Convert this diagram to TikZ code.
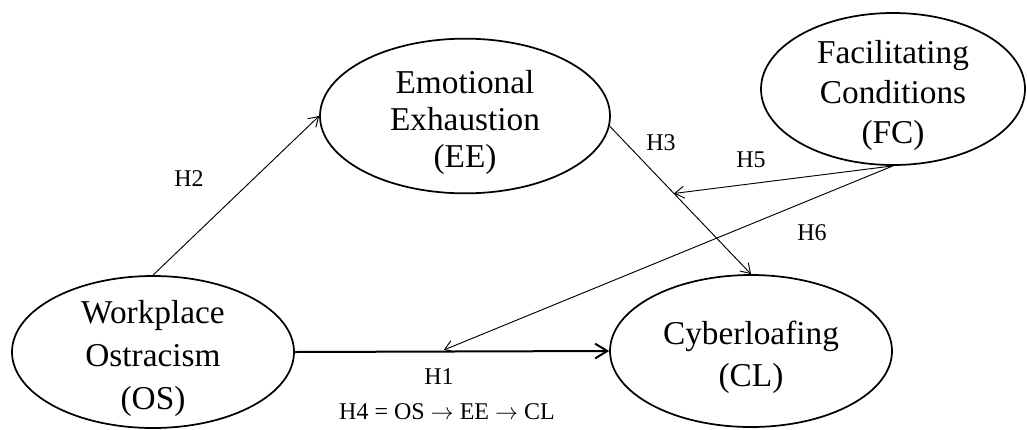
\documentclass[tikz,border=0pt]{standalone}
\usepackage{fontspec}
\setmainfont{Liberation Serif}
\usepackage{tikz}
\usetikzlibrary{shapes,arrows.meta,positioning}
\newcommand{\topgap}{\rule{0pt}{27pt}}
\tikzstyle{latent} = [ellipse, draw=black, line width=1.3pt, fill=none, text=black, align=center, inner xsep=0pt, inner ysep=-14pt, font=\fontsize{25}{31}\selectfont]
\tikzstyle{textonly} = [draw=none, fill=none, text centered, inner sep=0pt, font=\fontsize{18}{21}\selectfont]
\tikzstyle{tedge}  = [draw, line width=0.7pt, -{Straight Barb[length=7pt,width=9pt]}]
\tikzstyle{hedge}  = [draw, line width=1.5pt, -{Straight Barb[length=9pt,width=11pt]}]

\begin{document}
\begin{tikzpicture}[x=0.75pt, y=-0.75pt]
\useasboundingbox (0,0) rectangle (1027,429);

% constructs =============================

\node[latent, minimum width=211.5pt, minimum height=114pt, font=\fontsize{25}{32.5}\selectfont] (OS) at (153,352) {\topgap Workplace\\Ostracism\\(OS)};
\node[latent, minimum width=217.5pt, minimum height=116pt, font=\fontsize{25}{28}\selectfont] (EE) at (465,116) {\topgap Emotional\\Exhaustion\\(EE)};
\node[latent, minimum width=198pt, minimum height=114pt, font=\fontsize{25}{30}\selectfont] (FC) at (893,89) {\topgap Facilitating\\Conditions\\(FC)};
\node[latent, minimum width=211.5pt, minimum height=114pt] (CL) at (751,351) {\topgap Cyberloafing\\(CL)};

% edges

\path[tedge] (OS.north) -- (EE.west);
\path[tedge] (EE.-4) -- (CL.north) coordinate[pos=0.455] (h3mid);
\path[hedge] (OS.east) -- (CL.west) coordinate[pos=0.462] (h1mid);

\path[tedge] (FC.south) -- (h3mid);
\path[tedge, shorten >=3pt] (FC.south) -- (h1mid);

%labels

\node[textonly] (H2) at (189,179) {H2};
\node[textonly] (H3) at (661,143) {H3};
\node[textonly] (H5) at (751,160) {H5};
\node[textonly] (H6) at (812,233) {H6};
\node[textonly] (H1) at (439,377) {H1};
\node[textonly] (H4) at (447,412) {H4 = OS $\rightarrow$ EE $\rightarrow$ CL};

\end{tikzpicture}
\end{document}
